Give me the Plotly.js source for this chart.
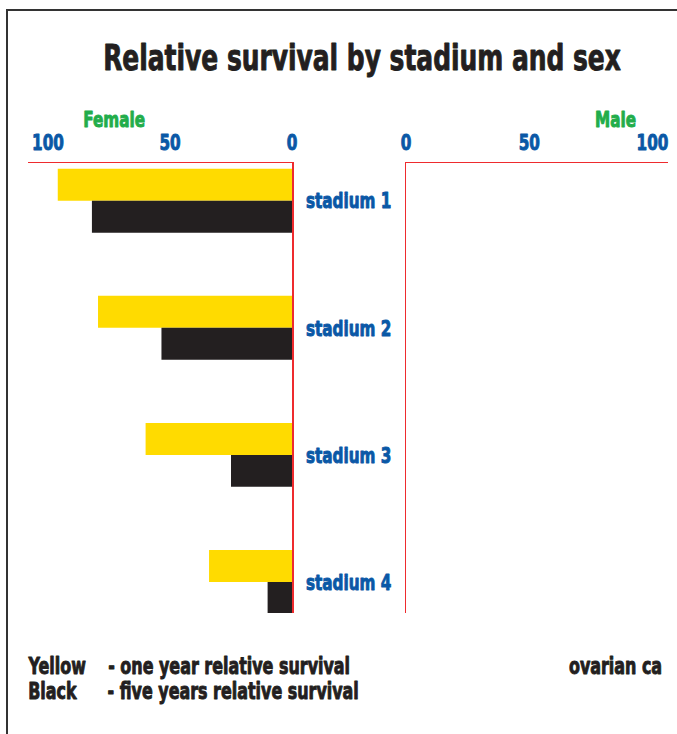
<!DOCTYPE html>
<html>
<head>
<meta charset="utf-8">
<script src="https://cdn.plot.ly/plotly-3.0.1.min.js"></script>
<style>html,body{margin:0;padding:0;background:#fff;}#chart{width:677px;height:734px;}</style>
</head>
<body>
<div id="chart"></div>
<script>
// ---- data ----
const stadiums = ["stadium 1", "stadium 2", "stadium 3", "stadium 4"];
const femaleOneYear = [96, 79.5, 60, 34];
const femaleFiveYear = [82, 53.5, 25, 10];
const maleOneYear = [];
const maleFiveYear = [];
const tickValues = [0, 50, 100];
const tickLabels = ["0", "50", "100"];

const FONT = "DejaVu Sans Condensed, DejaVu Sans, sans-serif";
const BLUE = "#0a58a6";
const GREEN = "#22ad4a";
const RED = "#ee2b2e";
const INK = "#231f20";
const W = 677, H = 734;
const px = v => v / W;
const py = v => 1 - v / H;

const traces = [
  {type: "bar", orientation: "h", name: "one year", y: stadiums, x: femaleOneYear,
   marker: {color: "#ffdb00"}, xaxis: "x", yaxis: "y", hoverinfo: "none"},
  {type: "bar", orientation: "h", name: "five years", y: stadiums, x: femaleFiveYear,
   marker: {color: INK}, xaxis: "x", yaxis: "y", hoverinfo: "none"},
  {type: "bar", orientation: "h", name: "male one year", y: stadiums.slice(0, maleOneYear.length), x: maleOneYear,
   marker: {color: "#ffdb00"}, xaxis: "x2", yaxis: "y2", hoverinfo: "none"},
  {type: "bar", orientation: "h", name: "male five years", y: stadiums.slice(0, maleFiveYear.length), x: maleFiveYear,
   marker: {color: INK}, xaxis: "x2", yaxis: "y2", hoverinfo: "none"}
];

const axisCommon = {
  side: "top", showgrid: false, zeroline: false, showline: true, linecolor: RED, linewidth: 1.5,
  tickmode: "array", tickvals: tickValues, ticktext: tickLabels, ticks: "",
  tickfont: {family: FONT, size: 22, color: BLUE, weight: "bold"}, ticklabelstandoff: 3, fixedrange: true
};

const bold = (size, color) => ({family: FONT, size: size, color: color, weight: "bold"});
const note = (text, x, y, size, color) => ({
  text: text, xref: "paper", yref: "paper", x: px(x), y: py(y), xanchor: "center", yanchor: "middle",
  showarrow: false, font: bold(size, color)
});

const layout = {
  width: W, height: H, margin: {l: 0, r: 0, t: 0, b: 0},
  paper_bgcolor: "#fff", plot_bgcolor: "rgba(0,0,0,0)",
  showlegend: false, barmode: "group", bargap: 0.497, bargroupgap: 0,
  font: {family: FONT},
  title: {text: "Relative survival by stadium and sex", x: px(362), xanchor: "center",
          y: 1 - 57 / H, yanchor: "middle", yref: "container", font: bold(36, INK)},
  xaxis: Object.assign({}, axisCommon, {domain: [px(28), px(292)], range: [(292 - 28) / 2.44, 0], anchor: "y"}),
  xaxis2: Object.assign({}, axisCommon, {domain: [px(406), px(668)], range: [0, (668 - 406) / 2.465], anchor: "y2"}),
  yaxis: {domain: [py(613), py(163)], type: "category", categoryarray: stadiums, range: [3.244, -0.297],
          side: "right", anchor: "x", showline: true, linecolor: RED, linewidth: 1.5, showgrid: false, zeroline: false,
          ticks: "", ticklabelstandoff: 8, fixedrange: true, tickfont: bold(22, BLUE)},
  yaxis2: {domain: [py(613), py(163)], type: "category", categoryarray: stadiums, range: [3.244, -0.297],
           side: "left", anchor: "x2", showline: true, linecolor: RED, linewidth: 1.5, showgrid: false, zeroline: false,
           ticks: "", showticklabels: false, fixedrange: true},
  annotations: [
    note("Female", 114, 119, 22, GREEN),
    note("Male", 615, 120, 22, GREEN),
    note("Yellow", 56, 666, 23, INK),
    note("- one year relative survival", 229, 666, 23, INK),
    note("Black", 53, 691, 23, INK),
    note("- five years relative survival", 233, 691, 23, INK),
    note("ovarian ca", 615, 666, 23, INK)
  ],
  shapes: [
    {type: "line", xref: "paper", yref: "paper", x0: px(7), x1: px(7), y0: py(10), y1: 0, line: {color: "#333", width: 2}},
    {type: "line", xref: "paper", yref: "paper", x0: px(6), x1: 1, y0: py(10), y1: py(10), line: {color: "#333", width: 2}}
  ]
};

// narrow the heavy sans glyphs horizontally (around each text's own anchor) and thicken them a little,
// to get the condensed black look of the reference lettering
const SQUEEZE = 0.77;
function condense(gd) {
  gd.querySelectorAll("svg text").forEach(t => {
    if (!t.textContent) return;
    const ax = parseFloat(t.getAttribute("x") || "0");
    const prev = t.getAttribute("transform") || "";
    t.setAttribute("transform", (prev + " translate(" + ax + ",0) scale(" + SQUEEZE + ",1) translate(" + (-ax) + ",0)").trim());
    const fill = getComputedStyle(t).fill;
    t.style.stroke = fill;
    t.style.strokeWidth = "0.9px";
    t.style.strokeLinejoin = "round";
  });
}

Plotly.newPlot("chart", traces, layout, {staticPlot: true, displayModeBar: false}).then(condense);
</script>
</body>
</html>
